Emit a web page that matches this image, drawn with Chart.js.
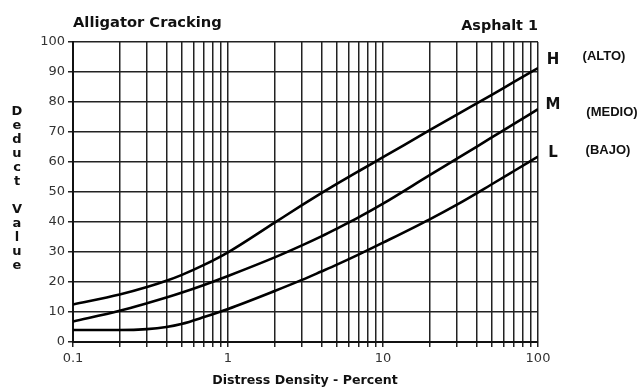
<!DOCTYPE html>
<html>
<head>
<meta charset="utf-8">
<script src="https://cdn.jsdelivr.net/npm/chart.js@4/dist/chart.umd.min.js"></script>
<style>
  html, body { margin: 0; padding: 0; background: #fff; }
  #wrap { width: 641px; height: 387px; position: relative; }
</style>
</head>
<body>
<div id="wrap"><canvas id="pciChart"></canvas></div>
<script>
// densidad (%) y valores deducidos
const density = [0.1, 0.2, 0.3, 0.4, 0.5, 0.7, 1, 2, 3, 4, 5, 7, 10, 20, 30, 50, 70, 100];
const highValues = [12.5, 15.8, 18.3, 20.4, 22.3, 25.7, 29.9, 39.8, 45.6, 49.6, 52.6, 57.0, 61.6, 70.6, 75.8, 82.3, 86.7, 91.3];
const mediumValues = [6.8, 10.4, 12.9, 14.8, 16.4, 19.0, 22.0, 28.2, 32.2, 35.2, 37.7, 41.6, 46.1, 55.6, 61.1, 68.1, 72.7, 77.6];
const lowValues = [4.0, 4.0, 4.3, 5.0, 6.0, 8.3, 11.0, 17.0, 20.7, 23.5, 25.7, 29.2, 33.1, 40.9, 45.8, 52.5, 57.0, 61.8];
const severityCodes = ['H', 'M', 'L'];
const severityNames = ['(ALTO)', '(MEDIO)', '(BAJO)'];
const xGridTicks = [0.1, 0.2, 0.3, 0.4, 0.5, 0.6, 0.7, 0.8, 0.9, 1, 2, 3, 4, 5, 6, 7, 8, 9, 10, 20, 30, 40, 50, 60, 70, 80, 90, 100];
const xLabelTicks = [0.1, 1, 10, 100];

function toPoints(vals) {
    return density.map((d, i) => ({ x: d, y: vals[i] }));
}

// textos extra (titulos, etiquetas de curvas)
const textPlugin = {
    id: 'textos',
    afterDraw(chart) {
        const c = chart.ctx;
        c.save();
        c.fillStyle = '#111';
        c.textBaseline = 'middle';

        c.font = 'bold 14.7px "DejaVu Sans"';
        c.textAlign = 'left';
        c.fillText('Alligator Cracking', 73, 23);
        c.font = 'bold 14.4px "DejaVu Sans"';
        c.textAlign = 'right';
        c.fillText('Asphalt 1', 538, 26);

        // etiqueta vertical del eje y, letra por letra
        c.font = 'bold 13px "DejaVu Sans"';
        c.textAlign = 'center';
        'Deduct Value'.split('').forEach((ch, i) => {
            c.fillText(ch, 17, 112 + i * 14);
        });

        c.font = 'bold 12.6px "DejaVu Sans"';
        c.fillText('Distress Density - Percent', 305, 381);

        // H / M / L
        const ys = [60, 105, 153];
        c.font = 'bold 15px "DejaVu Sans"';
        severityCodes.forEach((s, i) => c.fillText(s, 553, ys[i]));
        const nameX = [604, 612, 608];
        const nameY = [56, 112, 150];
        c.font = 'bold 13px "Liberation Sans"';
        severityNames.forEach((s, i) => c.fillText(s, nameX[i], nameY[i]));
        c.restore();
    }
};

const lineStyle = {
    borderColor: '#000',
    borderWidth: 2.6,
    pointRadius: 0,
    fill: false,
    cubicInterpolationMode: 'monotone'
};

const ctx = document.getElementById('pciChart').getContext('2d');
const pciChart = new Chart(ctx, {
    type: 'line',
    data: {
        datasets: [
            Object.assign({ label: 'H', data: toPoints(highValues) }, lineStyle),
            Object.assign({ label: 'M', data: toPoints(mediumValues) }, lineStyle),
            Object.assign({ label: 'L', data: toPoints(lowValues) }, lineStyle)
        ]
    },
    options: {
        responsive: true,
        maintainAspectRatio: false,
        animation: false,
        layout: { padding: { top: 42, right: 103, left: 0, bottom: 0 } },
        plugins: {
            legend: { display: false },
            tooltip: { enabled: false }
        },
        scales: {
            x: {
                type: 'logarithmic',
                min: 0.1,
                max: 100,
                afterBuildTicks(scale) {
                    scale.ticks = xGridTicks.map(v => ({ value: v }));
                },
                afterFit(scale) { scale.height = 45; },
                ticks: {
                    autoSkip: false,
                    maxRotation: 0,
                    color: '#333',
                    font: { family: 'DejaVu Sans', size: 13 },
                    padding: 4,
                    callback(v) {
                        return xLabelTicks.includes(v) ? String(v) : '';
                    }
                },
                grid: { color: '#222', lineWidth: 1.5, tickLength: 5, drawOnChartArea: true },
                border: { color: '#111', width: 2 }
            },
            y: {
                min: 0,
                max: 100,
                afterFit(scale) { scale.width = 73; },
                ticks: {
                    stepSize: 10,
                    color: '#333',
                    font: { family: 'DejaVu Sans', size: 13 },
                    padding: 3
                },
                grid: { color: '#222', lineWidth: 1.5, tickLength: 5 },
                border: { color: '#111', width: 2 }
            }
        }
    },
    plugins: [textPlugin]
});
</script>
</body>
</html>
